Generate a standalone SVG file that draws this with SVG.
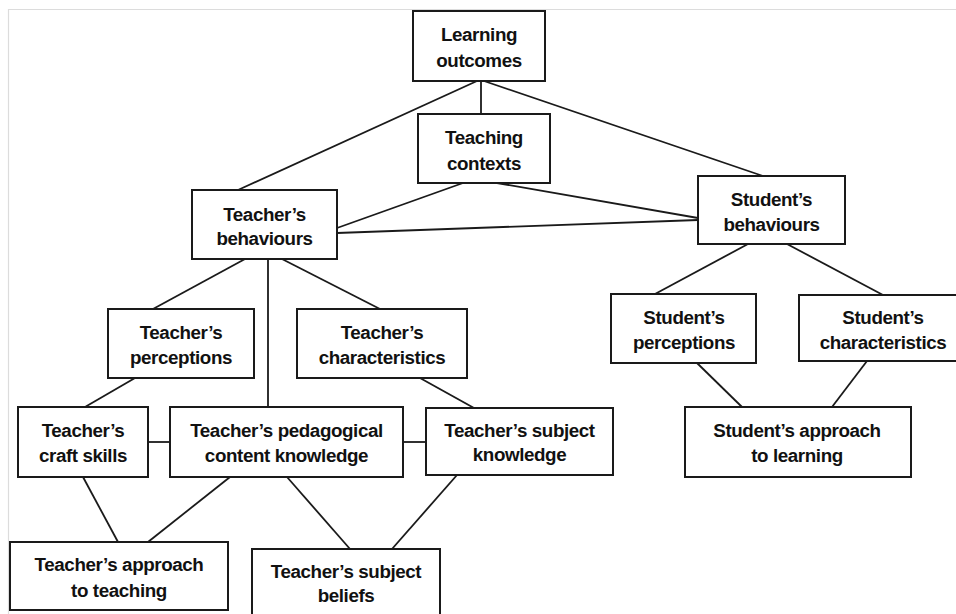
<svg xmlns="http://www.w3.org/2000/svg" width="956" height="614" viewBox="0 0 956 614">
<style>
.box{fill:#fff;stroke:#1a1a1a;stroke-width:2}
.t{font-family:"Liberation Sans",Arial,sans-serif;font-weight:bold;font-size:18.8px;fill:#111;text-anchor:middle;letter-spacing:-0.4px}
.c line{stroke:#1a1a1a;stroke-width:1.8}
</style>
<rect width="956" height="614" fill="#fff"/>
<g id="frame" stroke="#dcdcdc" stroke-width="1.2">
<line x1="8" y1="9.5" x2="956" y2="9.5"/>
<line x1="8.5" y1="9" x2="8.5" y2="614"/>
</g>
<g id="connectors" class="c">
<line x1="477" y1="81" x2="238" y2="190"/>
<line x1="481" y1="81" x2="481" y2="114"/>
<line x1="484" y1="81" x2="763" y2="176"/>
<line x1="463" y1="183" x2="337" y2="228"/>
<line x1="497" y1="183" x2="698" y2="218"/>
<line x1="337" y1="233" x2="698" y2="220"/>
<line x1="245" y1="259" x2="153" y2="309"/>
<line x1="268" y1="259" x2="268" y2="407"/>
<line x1="282" y1="259" x2="380" y2="309"/>
<line x1="748" y1="244" x2="655" y2="294"/>
<line x1="787" y1="244" x2="883" y2="295"/>
<line x1="135" y1="378" x2="85" y2="407"/>
<line x1="420" y1="378" x2="474" y2="408"/>
<line x1="148" y1="442" x2="170" y2="442"/>
<line x1="403" y1="442" x2="426" y2="442"/>
<line x1="697" y1="363" x2="742" y2="407"/>
<line x1="867" y1="361" x2="832" y2="407"/>
<line x1="83" y1="477" x2="118" y2="542"/>
<line x1="230" y1="477" x2="148" y2="542"/>
<line x1="287" y1="477" x2="350" y2="549"/>
<line x1="457" y1="475" x2="392" y2="549"/>
</g>
<g id="learning-outcomes"><rect class="box" x="413" y="11" width="132" height="70"/><text class="t" x="479" y="41">Learning</text><text class="t" x="479" y="67">outcomes</text></g>
<g id="teaching-contexts"><rect class="box" x="418" y="114" width="132" height="69"/><text class="t" x="484" y="144">Teaching</text><text class="t" x="484" y="170">contexts</text></g>
<g id="teachers-behaviours"><rect class="box" x="192" y="190" width="145" height="69"/><text class="t" x="264.5" y="221">Teacher’s</text><text class="t" x="264.5" y="245">behaviours</text></g>
<g id="students-behaviours"><rect class="box" x="698" y="176" width="147" height="68"/><text class="t" x="771.5" y="206">Student’s</text><text class="t" x="771.5" y="231">behaviours</text></g>
<g id="teachers-perceptions"><rect class="box" x="108" y="309" width="146" height="69"/><text class="t" x="181" y="339">Teacher’s</text><text class="t" x="181" y="364">perceptions</text></g>
<g id="teachers-characteristics"><rect class="box" x="297" y="309" width="170" height="69"/><text class="t" x="382" y="339">Teacher’s</text><text class="t" x="382" y="364">characteristics</text></g>
<g id="students-perceptions"><rect class="box" x="611" y="294" width="145" height="69"/><text class="t" x="684" y="324">Student’s</text><text class="t" x="684" y="349">perceptions</text></g>
<g id="students-characteristics"><rect class="box" x="799" y="295" width="170" height="66"/><text class="t" x="883" y="324">Student’s</text><text class="t" x="883" y="349">characteristics</text></g>
<g id="teachers-craft-skills"><rect class="box" x="18" y="407" width="130" height="70"/><text class="t" x="83" y="437">Teacher’s</text><text class="t" x="83" y="462">craft skills</text></g>
<g id="teachers-pck"><rect class="box" x="170" y="407" width="233" height="70"/><text class="t" x="286.5" y="437">Teacher’s pedagogical</text><text class="t" x="286.5" y="462">content knowledge</text></g>
<g id="teachers-subject-knowledge"><rect class="box" x="426" y="408" width="187" height="67"/><text class="t" x="519.5" y="437">Teacher’s subject</text><text class="t" x="519.5" y="461">knowledge</text></g>
<g id="students-approach"><rect class="box" x="685" y="407" width="226" height="70"/><text class="t" x="797" y="437">Student’s approach</text><text class="t" x="797" y="462">to learning</text></g>
<g id="teachers-approach"><rect class="box" x="10" y="542" width="218" height="68"/><text class="t" x="119" y="571">Teacher’s approach</text><text class="t" x="119" y="597">to teaching</text></g>
<g id="teachers-subject-beliefs"><rect class="box" x="252" y="549" width="188" height="75"/><text class="t" x="346" y="578">Teacher’s subject</text><text class="t" x="346" y="602">beliefs</text></g>
</svg>
